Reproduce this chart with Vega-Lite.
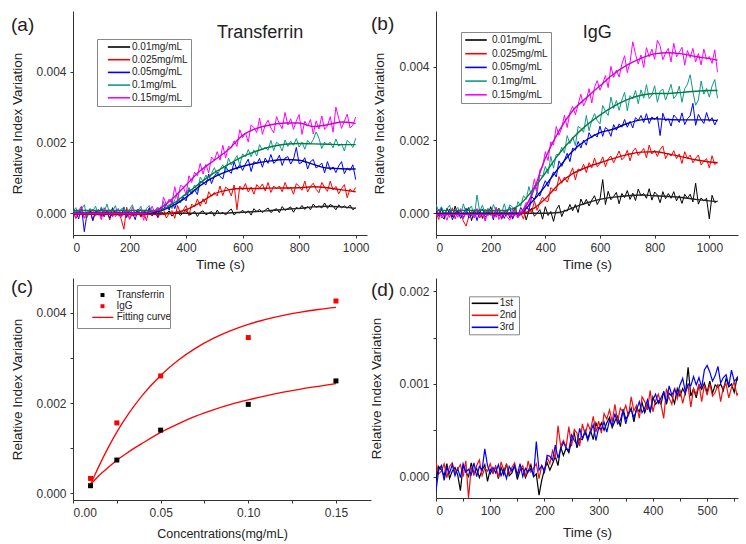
{
"$schema": "https://vega.github.io/schema/vega-lite/v6.json",
"background": "white",
"padding": {"left": 10, "top": 11, "right": 2, "bottom": 2},
"config": {
  "font": "Liberation Sans",
  "view": {"stroke": null},
  "axis": {"labelFontSize": 12, "labelColor": "#333", "titleFontSize": 13.5, "titleFontWeight": "normal", "titleColor": "#222", "domainColor": "#333", "tickColor": "#333", "tickSize": 3, "labelPadding": 4, "grid": false},
  "legend": {"orient": "none", "labelFontSize": 10, "labelColor": "#222", "strokeColor": "#888", "fillColor": "white", "padding": 3, "symbolStrokeWidth": 1.6},
  "title": {"fontSize": 19, "fontWeight": "normal", "anchor": "start", "frame": "group", "color": "#222", "offset": 0, "baseline": "alphabetic"}
},
"datasets": {
"aRaw": [
{"t":0,"a":0.03e-3,"b":0.05e-3,"c":0,"d":0.04e-3,"e":0.04e-3},
{"t":10,"a":-0.05e-3,"b":-0.15e-3,"c":0.08e-3,"d":0.16e-3,"e":-0.12e-3},
{"t":20,"a":0.08e-3,"b":-0.01e-3,"c":-0.16e-3,"d":-0.04e-3,"e":0.08e-3},
{"t":30,"a":-0.02e-3,"b":0.13e-3,"c":0.18e-3,"d":0.12e-3,"e":0.2e-3},
{"t":40,"a":0.01e-3,"b":-0.13e-3,"c":-0.52e-3,"d":0.24e-3,"e":-0.14e-3},
{"t":50,"a":-0.09e-3,"b":-0.07e-3,"c":0.02e-3,"d":-0.12e-3,"e":0.02e-3},
{"t":60,"a":0.06e-3,"b":0.09e-3,"c":0.12e-3,"d":0.14e-3,"e":-0.04e-3},
{"t":70,"a":0.02e-3,"b":-0.21e-3,"c":-0.2e-3,"d":0.06e-3,"e":0.12e-3},
{"t":80,"a":-0.04e-3,"b":0.03e-3,"c":0.08e-3,"d":0.2e-3,"e":-0.08e-3},
{"t":90,"a":0.09e-3,"b":0.11e-3,"c":-0.04e-3,"d":-0.06e-3,"e":0.06e-3},
{"t":100,"a":-0.07e-3,"b":-0.11e-3,"c":0.14e-3,"d":0.18e-3,"e":-0.18e-3},
{"t":110,"a":0.01e-3,"b":-0.03e-3,"c":-0.1e-3,"d":0.02e-3,"e":0.16e-3},
{"t":120,"a":0.05e-3,"b":0.07e-3,"c":0.06e-3,"d":0.26e-3,"e":-0.02e-3},
{"t":130,"a":-0.03e-3,"b":-0.19e-3,"c":-0.14e-3,"d":0,"e":0.1e-3},
{"t":140,"a":-0.08e-3,"b":0.15e-3,"c":0.16e-3,"d":0.06e-3,"e":-0.1e-3},
{"t":150,"a":0.07e-3,"b":-0.09e-3,"c":-0.02e-3,"d":0.22e-3,"e":0.04e-3},
{"t":160,"a":0,"b":0.01e-3,"c":0.04e-3,"d":-0.08e-3,"e":0.14e-3},
{"t":170,"a":-0.05e-3,"b":-0.15e-3,"c":-0.08e-3,"d":0.12e-3,"e":-0.12e-3},
{"t":180,"a":0.1e-3,"b":-0.45e-3,"c":0.18e-3,"d":0.16e-3,"e":0},
{"t":190,"a":-0.02e-3,"b":0.17e-3,"c":-0.12e-3,"d":-0.04e-3,"e":0.08e-3},
{"t":200,"a":0.04e-3,"b":-0.17e-3,"c":0.1e-3,"d":0.1e-3,"e":-0.16e-3},
{"t":210,"a":-0.06e-3,"b":-0.01e-3,"c":0.02e-3,"d":0.24e-3,"e":0.18e-3},
{"t":220,"a":0.02e-3,"b":-0.07e-3,"c":-0.18e-3,"d":-0.02e-3,"e":-0.06e-3},
{"t":230,"a":0.08e-3,"b":0.09e-3,"c":0.12e-3,"d":0.04e-3,"e":0.02e-3},
{"t":240,"a":-0.1e-3,"b":-0.11e-3,"c":-0.06e-3,"d":0.2e-3,"e":0.12e-3},
{"t":250,"a":0.03e-3,"b":0.03e-3,"c":0.08e-3,"d":-0.1e-3,"e":-0.2e-3},
{"t":260,"a":-0.01e-3,"b":-0.21e-3,"c":-0.03e-3,"d":0.14e-3,"e":0.1e-3},
{"t":270,"a":0.06e-3,"b":0.13e-3,"c":0.16e-3,"d":0.22e-3,"e":0},
{"t":280,"a":-0.07e-3,"b":-0.05e-3,"c":-0.07e-3,"d":0,"e":0.2e-3},
{"t":290,"a":0.05e-3,"b":0.07e-3,"c":0.08e-3,"d":0.08e-3,"e":-0.02e-3},
{"t":300,"a":-0.03e-3,"b":-0.13e-3,"c":-0.11e-3,"d":0.18e-3,"e":0.16e-3},
{"t":310,"a":0.09e-3,"b":0.02e-3,"c":0.18e-3,"d":-0.05e-3,"e":-0.05e-3},
{"t":320,"a":-0.04e-3,"b":0.12e-3,"c":0.11e-3,"d":0.33e-3,"e":0.46e-3},
{"t":330,"a":-0.01e-3,"b":-0.13e-3,"c":0.26e-3,"d":0.12e-3,"e":0.25e-3},
{"t":340,"a":0.07e-3,"b":-0.01e-3,"c":0.09e-3,"d":0.26e-3,"e":0.4e-3},
{"t":350,"a":-0.08e-3,"b":0.08e-3,"c":0.36e-3,"d":0.13e-3,"e":0.28e-3},
{"t":360,"a":0.02e-3,"b":-0.14e-3,"c":0.13e-3,"d":0.39e-3,"e":0.75e-3},
{"t":370,"a":0.04e-3,"b":0.22e-3,"c":0.36e-3,"d":0.57e-3,"e":0.38e-3},
{"t":380,"a":-0.06e-3,"b":0,"c":0.33e-3,"d":0.29e-3,"e":0.79e-3},
{"t":390,"a":0.01e-3,"b":0.1e-3,"c":0.46e-3,"d":0.51e-3,"e":0.75e-3},
{"t":400,"a":0.08e-3,"b":0.22e-3,"c":0.35e-3,"d":0.51e-3,"e":0.53e-3},
{"t":410,"a":-0.05e-3,"b":-0.06e-3,"c":0.68e-3,"d":0.73e-3,"e":1.06e-3},
{"t":420,"a":-0.02e-3,"b":0.26e-3,"c":0.54e-3,"d":0.59e-3,"e":0.87e-3},
{"t":430,"a":0.06e-3,"b":0.18e-3,"c":0.67e-3,"d":0.8e-3,"e":1.16e-3},
{"t":440,"a":-0.09e-3,"b":0.4e-3,"c":0.53e-3,"d":0.62e-3,"e":1.06e-3},
{"t":450,"a":0.03e-3,"b":0.2e-3,"c":0.9e-3,"d":1.02e-3,"e":1.41e-3},
{"t":460,"a":0.07e-3,"b":0.41e-3,"c":0.87e-3,"d":0.9e-3,"e":1.11e-3},
{"t":470,"a":-0.04e-3,"b":0.26e-3,"c":0.8e-3,"d":1.08e-3,"e":1.38e-3},
{"t":480,"a":0,"b":0.61e-3,"c":1.11e-3,"d":0.93e-3,"e":1.14e-3},
{"t":490,"a":0.05e-3,"b":0.48e-3,"c":0.84e-3,"d":1.13e-3,"e":1.59e-3},
{"t":500,"a":-0.08e-3,"b":0.59e-3,"c":1.05e-3,"d":1.29e-3,"e":1.5e-3},
{"t":510,"a":0.09e-3,"b":0.49e-3,"c":1.16e-3,"d":1.08e-3,"e":1.74e-3},
{"t":520,"a":-0.02e-3,"b":0.77e-3,"c":1.04e-3,"d":1.24e-3,"e":1.5e-3},
{"t":530,"a":0.03e-3,"b":0.5e-3,"c":0.97e-3,"d":1.37e-3,"e":1.92e-3},
{"t":540,"a":-0.05e-3,"b":0.74e-3,"c":1.31e-3,"d":1.17e-3,"e":1.56e-3},
{"t":550,"a":0.06e-3,"b":0.68e-3,"c":1.2e-3,"d":1.56e-3,"e":1.89e-3},
{"t":560,"a":0.12e-3,"b":0.49e-3,"c":1.13e-3,"d":1.36e-3,"e":1.85e-3},
{"t":570,"a":-0.05e-3,"b":0.8e-3,"c":1.45e-3,"d":1.49e-3,"e":2.05e-3},
{"t":580,"a":0.03e-3,"b":0.1e-3,"c":1.24e-3,"d":1.63e-3,"e":1.89e-3},
{"t":590,"a":0.01e-3,"b":0.77e-3,"c":1.38e-3,"d":1.36e-3,"e":2.36e-3},
{"t":600,"a":0.09e-3,"b":0.66e-3,"c":1.21e-3,"d":1.68e-3,"e":2.14e-3},
{"t":610,"a":0,"b":0.84e-3,"c":1.39e-3,"d":1.59e-3,"e":2.27e-3},
{"t":620,"a":0.07e-3,"b":0.6e-3,"c":1.53e-3,"d":1.8e-3,"e":2.01e-3},
{"t":630,"a":-0.05e-3,"b":0.74e-3,"c":1.18e-3,"d":1.6e-3,"e":2.5e-3},
{"t":640,"a":0.13e-3,"b":0.54e-3,"c":1.46e-3,"d":1.79e-3,"e":2.42e-3},
{"t":650,"a":0.05e-3,"b":0.81e-3,"c":1.4e-3,"d":1.62e-3,"e":2.28e-3},
{"t":660,"a":0.11e-3,"b":0.71e-3,"c":1.55e-3,"d":1.94e-3,"e":2.69e-3},
{"t":670,"a":0.02e-3,"b":0.83e-3,"c":1.3e-3,"d":1.79e-3,"e":2.23e-3},
{"t":680,"a":0.09e-3,"b":0.63e-3,"c":1.56e-3,"d":1.87e-3,"e":2.49e-3},
{"t":690,"a":0.15e-3,"b":0.87e-3,"c":1.41e-3,"d":1.78e-3,"e":2.63e-3},
{"t":700,"a":0.02e-3,"b":0.59e-3,"c":1.66e-3,"d":2.06e-3,"e":2.41e-3},
{"t":710,"a":0.09e-3,"b":0.77e-3,"c":1.41e-3,"d":1.77e-3,"e":2.27e-3},
{"t":720,"a":0.13e-3,"b":0.69e-3,"c":1.48e-3,"d":2.01e-3,"e":2.73e-3},
{"t":730,"a":0.02e-3,"b":0.77e-3,"c":1.64e-3,"d":1.94e-3,"e":2.53e-3},
{"t":740,"a":0.19e-3,"b":0.61e-3,"c":1.35e-3,"d":1.76e-3,"e":2.39e-3},
{"t":750,"a":0.08e-3,"b":0.87e-3,"c":1.56e-3,"d":2.07e-3,"e":2.85e-3},
{"t":760,"a":0.13e-3,"b":0.68e-3,"c":1.6e-3,"d":1.89e-3,"e":2.49e-3},
{"t":770,"a":0.18e-3,"b":0.74e-3,"c":1.39e-3,"d":2.04e-3,"e":2.67e-3},
{"t":780,"a":0.03e-3,"b":0.54e-3,"c":1.53e-3,"d":1.92e-3,"e":2.37e-3},
{"t":790,"a":0.17e-3,"b":0.84e-3,"c":1.86e-3,"d":2.11e-3,"e":2.61e-3},
{"t":800,"a":0.12e-3,"b":0.76e-3,"c":1.4e-3,"d":1.87e-3,"e":2.79e-3},
{"t":810,"a":0.22e-3,"b":0.65e-3,"c":1.44e-3,"d":2.01e-3,"e":2.23e-3},
{"t":820,"a":0.11e-3,"b":0.91e-3,"c":1.57e-3,"d":1.81e-3,"e":2.6e-3},
{"t":830,"a":0.19e-3,"b":0.6e-3,"c":1.25e-3,"d":2.06e-3,"e":2.46e-3},
{"t":840,"a":0.1e-3,"b":0.76e-3,"c":1.46e-3,"d":1.96e-3,"e":2.65e-3},
{"t":850,"a":0.26e-3,"b":0.85e-3,"c":1.52e-3,"d":2.08e-3,"e":2.24e-3},
{"t":860,"a":0.17e-3,"b":0.68e-3,"c":1.28e-3,"d":2.3e-3,"e":2.61e-3},
{"t":870,"a":0.21e-3,"b":0.58e-3,"c":1.34e-3,"d":2.12e-3,"e":2.38e-3},
{"t":880,"a":0.15e-3,"b":0.87e-3,"c":1.42e-3,"d":1.83e-3,"e":2.75e-3},
{"t":890,"a":0.29e-3,"b":0.73e-3,"c":1.14e-3,"d":2.01e-3,"e":2.37e-3},
{"t":900,"a":0.14e-3,"b":0.62e-3,"c":1.46e-3,"d":1.93e-3,"e":2.47e-3},
{"t":910,"a":0.25e-3,"b":0.91e-3,"c":1.22e-3,"d":2.01e-3,"e":2.73e-3},
{"t":920,"a":0.2e-3,"b":0.66e-3,"c":1.31e-3,"d":1.85e-3,"e":2.29e-3},
{"t":930,"a":0.1e-3,"b":0.76e-3,"c":1.15e-3,"d":2.1e-3,"e":3.0e-3},
{"t":940,"a":0.24e-3,"b":0.55e-3,"c":1.34e-3,"d":1.9e-3,"e":2.68e-3},
{"t":950,"a":0.15e-3,"b":0.7e-3,"c":1.46e-3,"d":1.96e-3,"e":2.4e-3},
{"t":960,"a":0.21e-3,"b":0.81e-3,"c":1.12e-3,"d":1.76e-3,"e":2.6e-3},
{"t":970,"a":0.14e-3,"b":0.44e-3,"c":1.28e-3,"d":2.06e-3,"e":2.8e-3},
{"t":980,"a":0.23e-3,"b":0.69e-3,"c":1.21e-3,"d":1.98e-3,"e":2.41e-3},
{"t":990,"a":0.1e-3,"b":0.6e-3,"c":1.37e-3,"d":1.86e-3,"e":2.49e-3},
{"t":1000,"a":0.16e-3,"b":0.73e-3,"c":0.95e-3,"d":2.12e-3,"e":2.72e-3}
],
"aFit": [
{"t":0,"a":0,"b":-0.03e-3,"c":0,"d":0.08e-3,"e":0},
{"t":50,"a":0,"b":-0.03e-3,"c":0,"d":0.08e-3,"e":0},
{"t":100,"a":0,"b":-0.03e-3,"c":0,"d":0.08e-3,"e":0},
{"t":150,"a":0,"b":-0.03e-3,"c":0,"d":0.08e-3,"e":0},
{"t":200,"a":0,"b":-0.03e-3,"c":0,"d":0.08e-3,"e":0},
{"t":250,"a":0,"b":-0.03e-3,"c":0,"d":0.08e-3,"e":0},
{"t":300,"a":0,"b":-0.03e-3,"c":0.05e-3,"d":0.08e-3,"e":0.1e-3},
{"t":350,"a":0,"b":0,"c":0.2e-3,"d":0.25e-3,"e":0.4e-3},
{"t":400,"a":0,"b":0.1e-3,"c":0.45e-3,"d":0.55e-3,"e":0.8e-3},
{"t":450,"a":0,"b":0.3e-3,"c":0.78e-3,"d":0.86e-3,"e":1.2e-3},
{"t":500,"a":0,"b":0.55e-3,"c":1.03e-3,"d":1.15e-3,"e":1.5e-3},
{"t":550,"a":0.01e-3,"b":0.66e-3,"c":1.2e-3,"d":1.38e-3,"e":1.8e-3},
{"t":600,"a":0.03e-3,"b":0.7e-3,"c":1.33e-3,"d":1.6e-3,"e":2.2e-3},
{"t":650,"a":0.05e-3,"b":0.7e-3,"c":1.42e-3,"d":1.76e-3,"e":2.4e-3},
{"t":700,"a":0.08e-3,"b":0.71e-3,"c":1.48e-3,"d":1.88e-3,"e":2.5e-3},
{"t":750,"a":0.11e-3,"b":0.715e-3,"c":1.52e-3,"d":1.95e-3,"e":2.55e-3},
{"t":800,"a":0.14e-3,"b":0.72e-3,"c":1.5e-3,"d":1.97e-3,"e":2.55e-3},
{"t":850,"a":0.18e-3,"b":0.75e-3,"c":1.38e-3,"d":1.96e-3,"e":2.45e-3},
{"t":900,"a":0.2e-3,"b":0.72e-3,"c":1.28e-3,"d":1.95e-3,"e":2.5e-3},
{"t":950,"a":0.18e-3,"b":0.66e-3,"c":1.26e-3,"d":1.94e-3,"e":2.58e-3},
{"t":1000,"a":0.14e-3,"b":0.61e-3,"c":1.25e-3,"d":1.94e-3,"e":2.54e-3}
],
"bRaw": [
{"t":0,"a":0.02e-3,"b":0.03e-3,"c":0.08e-3,"d":0.24e-3,"e":-0.07e-3},
{"t":10,"a":0.1e-3,"b":-0.17e-3,"c":-0.08e-3,"d":0.06e-3,"e":0.11e-3},
{"t":20,"a":-0.06e-3,"b":0.13e-3,"c":0.16e-3,"d":0.18e-3,"e":-0.13e-3},
{"t":30,"a":-0.16e-3,"b":-0.05e-3,"c":-0.1e-3,"d":-0.02e-3,"e":0.01e-3},
{"t":40,"a":0.14e-3,"b":0.01e-3,"c":-0.04e-3,"d":0.12e-3,"e":-0.19e-3},
{"t":50,"a":0,"b":-0.11e-3,"c":0.12e-3,"d":0.22e-3,"e":0.07e-3},
{"t":60,"a":-0.1e-3,"b":0.15e-3,"c":-0.18e-3,"d":-0.04e-3,"e":-0.03e-3},
{"t":70,"a":0.2e-3,"b":-0.15e-3,"c":0.02e-3,"d":0.08e-3,"e":0.09e-3},
{"t":80,"a":-0.04e-3,"b":0.07e-3,"c":0.06e-3,"d":0.16e-3,"e":-0.11e-3},
{"t":90,"a":0.08e-3,"b":-0.01e-3,"c":-0.14e-3,"d":-0.08e-3,"e":0.13e-3},
{"t":100,"a":-0.12e-3,"b":-0.21e-3,"c":0,"d":0.26e-3,"e":-0.15e-3},
{"t":110,"a":0.04e-3,"b":-0.35e-3,"c":0.14e-3,"d":0.02e-3,"e":0.03e-3},
{"t":120,"a":0.16e-3,"b":-0.09e-3,"c":-0.12e-3,"d":0.1e-3,"e":-0.05e-3},
{"t":130,"a":-0.2e-3,"b":0.05e-3,"c":-0.06e-3,"d":0.2e-3,"e":0.03e-3},
{"t":140,"a":0.06e-3,"b":-0.07e-3,"c":0.1e-3,"d":-0.12e-3,"e":-0.13e-3},
{"t":150,"a":-0.02e-3,"b":0.11e-3,"c":-0.2e-3,"d":0.5e-3,"e":0.13e-3},
{"t":160,"a":0.12e-3,"b":-0.13e-3,"c":0.04e-3,"d":0.04e-3,"e":-0.07e-3},
{"t":170,"a":-0.14e-3,"b":0.01e-3,"c":0.12e-3,"d":0.22e-3,"e":-0.01e-3},
{"t":180,"a":0.1e-3,"b":-0.19e-3,"c":-0.1e-3,"d":-0.02e-3,"e":-0.21e-3},
{"t":190,"a":-0.06e-3,"b":0.07e-3,"c":-0.02e-3,"d":0.14e-3,"e":0.09e-3},
{"t":200,"a":0.18e-3,"b":-0.03e-3,"c":0.08e-3,"d":-0.06e-3,"e":0.01e-3},
{"t":210,"a":-0.08e-3,"b":0.09e-3,"c":-0.18e-3,"d":0.24e-3,"e":-0.11e-3},
{"t":220,"a":-0.02e-3,"b":-0.11e-3,"c":0.16e-3,"d":0.06e-3,"e":0.15e-3},
{"t":230,"a":0.14e-3,"b":0.13e-3,"c":-0.08e-3,"d":0.12e-3,"e":-0.17e-3},
{"t":240,"a":-0.16e-3,"b":-0.15e-3,"c":0.02e-3,"d":0,"e":-0.01e-3},
{"t":250,"a":0.04e-3,"b":0.03e-3,"c":-0.14e-3,"d":0.26e-3,"e":0.07e-3},
{"t":260,"a":0.08e-3,"b":-0.05e-3,"c":0.06e-3,"d":-0.02e-3,"e":-0.09e-3},
{"t":270,"a":-0.12e-3,"b":0.03e-3,"c":0.18e-3,"d":0.23e-3,"e":-0.19e-3},
{"t":280,"a":0.02e-3,"b":-0.13e-3,"c":-0.16e-3,"d":0.17e-3,"e":0.11e-3},
{"t":290,"a":0.16e-3,"b":0.13e-3,"c":0,"d":0,"e":-0.03e-3},
{"t":300,"a":-0.1e-3,"b":-0.07e-3,"c":-0.06e-3,"d":0.32e-3,"e":-0.13e-3},
{"t":310,"a":-0.04e-3,"b":0.02e-3,"c":0.16e-3,"d":0.19e-3,"e":0.08e-3},
{"t":320,"a":0.12e-3,"b":-0.16e-3,"c":0.03e-3,"d":0.48e-3,"e":0.12e-3},
{"t":330,"a":-0.18e-3,"b":0.17e-3,"c":0.23e-3,"d":0.38e-3,"e":0.3e-3},
{"t":340,"a":0.06e-3,"b":0.11e-3,"c":0.06e-3,"d":0.73e-3,"e":0.21e-3},
{"t":350,"a":0.14e-3,"b":0.02e-3,"c":0.46e-3,"d":0.45e-3,"e":0.56e-3},
{"t":360,"a":-0.08e-3,"b":0.34e-3,"c":0.37e-3,"d":0.76e-3,"e":0.94e-3},
{"t":370,"a":0,"b":0.08e-3,"c":0.58e-3,"d":0.56e-3,"e":0.6e-3},
{"t":380,"a":0.1e-3,"b":0.3e-3,"c":0.47e-3,"d":1.05e-3,"e":1.19e-3},
{"t":390,"a":-0.16e-3,"b":0.44e-3,"c":0.7e-3,"d":1.0e-3,"e":1.27e-3},
{"t":400,"a":0.18e-3,"b":0.34e-3,"c":0.89e-3,"d":1.28e-3,"e":1.68e-3},
{"t":410,"a":-0.06e-3,"b":0.32e-3,"c":0.73e-3,"d":1.08e-3,"e":1.44e-3},
{"t":420,"a":0.05e-3,"b":0.7e-3,"c":0.95e-3,"d":1.55e-3,"e":1.95e-3},
{"t":430,"a":-0.22e-3,"b":0.64e-3,"c":1.13e-3,"d":1.23e-3,"e":1.86e-3},
{"t":440,"a":0.1e-3,"b":0.62e-3,"c":0.99e-3,"d":1.61e-3,"e":2.37e-3},
{"t":450,"a":0.22e-3,"b":1.0e-3,"c":1.43e-3,"d":1.59e-3,"e":2.13e-3},
{"t":460,"a":-0.09e-3,"b":0.82e-3,"c":1.28e-3,"d":1.8e-3,"e":2.33e-3},
{"t":470,"a":0.09e-3,"b":0.99e-3,"c":1.45e-3,"d":1.64e-3,"e":2.68e-3},
{"t":480,"a":0.06e-3,"b":0.85e-3,"c":1.64e-3,"d":2.12e-3,"e":2.34e-3},
{"t":490,"a":0.24e-3,"b":1.06e-3,"c":1.41e-3,"d":1.9e-3,"e":2.75e-3},
{"t":500,"a":0.07e-3,"b":1.24e-3,"c":1.78e-3,"d":2.08e-3,"e":2.92e-3},
{"t":510,"a":0.24e-3,"b":0.91e-3,"c":1.72e-3,"d":1.85e-3,"e":2.69e-3},
{"t":520,"a":0.02e-3,"b":1.21e-3,"c":1.96e-3,"d":2.37e-3,"e":2.97e-3},
{"t":530,"a":0.39e-3,"b":1.16e-3,"c":1.78e-3,"d":2.32e-3,"e":3.25e-3},
{"t":540,"a":0.23e-3,"b":1.34e-3,"c":2.0e-3,"d":2.21e-3,"e":2.93e-3},
{"t":550,"a":0.38e-3,"b":1.11e-3,"c":1.86e-3,"d":2.67e-3,"e":3.09e-3},
{"t":560,"a":0.2e-3,"b":1.38e-3,"c":2.2e-3,"d":2.25e-3,"e":3.4e-3},
{"t":570,"a":0.36e-3,"b":1.24e-3,"c":2.06e-3,"d":2.54e-3,"e":3.01e-3},
{"t":580,"a":0.48e-3,"b":1.51e-3,"c":2.16e-3,"d":2.72e-3,"e":3.44e-3},
{"t":590,"a":0.24e-3,"b":1.27e-3,"c":2.08e-3,"d":2.53e-3,"e":3.62e-3},
{"t":600,"a":0.38e-3,"b":1.36e-3,"c":2.38e-3,"d":2.44e-3,"e":3.36e-3},
{"t":610,"a":0.92e-3,"b":1.54e-3,"c":2.1e-3,"d":2.94e-3,"e":3.54e-3},
{"t":620,"a":0.24e-3,"b":1.27e-3,"c":2.34e-3,"d":2.78e-3,"e":3.76e-3},
{"t":630,"a":0.6e-3,"b":1.49e-3,"c":2.28e-3,"d":2.67e-3,"e":3.43e-3},
{"t":640,"a":0.37e-3,"b":1.56e-3,"c":2.1e-3,"d":3.17e-3,"e":4.01e-3},
{"t":650,"a":0.46e-3,"b":1.38e-3,"c":2.42e-3,"d":2.86e-3,"e":3.71e-3},
{"t":660,"a":0.57e-3,"b":1.54e-3,"c":2.27e-3,"d":3.08e-3,"e":3.91e-3},
{"t":670,"a":0.26e-3,"b":1.7e-3,"c":2.44e-3,"d":2.81e-3,"e":3.72e-3},
{"t":680,"a":0.54e-3,"b":1.46e-3,"c":2.35e-3,"d":3.09e-3,"e":4.07e-3},
{"t":690,"a":0.43e-3,"b":1.54e-3,"c":2.56e-3,"d":3.3e-3,"e":4.3e-3},
{"t":700,"a":0.62e-3,"b":1.72e-3,"c":2.35e-3,"d":2.8e-3,"e":3.84e-3},
{"t":710,"a":0.38e-3,"b":1.43e-3,"c":2.51e-3,"d":3.21e-3,"e":4.12e-3},
{"t":720,"a":0.55e-3,"b":1.69e-3,"c":2.33e-3,"d":3.12e-3,"e":4.68e-3},
{"t":730,"a":0.35e-3,"b":1.78e-3,"c":2.61e-3,"d":3.35e-3,"e":4.34e-3},
{"t":740,"a":0.66e-3,"b":1.58e-3,"c":2.53e-3,"d":2.99e-3,"e":4.07e-3},
{"t":750,"a":0.48e-3,"b":1.67e-3,"c":2.67e-3,"d":3.37e-3,"e":4.32e-3},
{"t":760,"a":0.54e-3,"b":1.77e-3,"c":2.48e-3,"d":3.14e-3,"e":3.98e-3},
{"t":770,"a":0.41e-3,"b":1.51e-3,"c":2.72e-3,"d":3.51e-3,"e":4.52e-3},
{"t":780,"a":0.67e-3,"b":1.86e-3,"c":2.45e-3,"d":3.13e-3,"e":4.27e-3},
{"t":790,"a":0.36e-3,"b":1.62e-3,"c":2.63e-3,"d":3.23e-3,"e":4.48e-3},
{"t":800,"a":0.58e-3,"b":1.72e-3,"c":2.56e-3,"d":3.48e-3,"e":4.2e-3},
{"t":810,"a":0.5e-3,"b":1.55e-3,"c":2.64e-3,"d":3.03e-3,"e":4.72e-3},
{"t":820,"a":0.29e-3,"b":1.74e-3,"c":2.12e-3,"d":3.33e-3,"e":4.57e-3},
{"t":830,"a":0.59e-3,"b":1.84e-3,"c":2.73e-3,"d":3.39e-3,"e":4.19e-3},
{"t":840,"a":0.4e-3,"b":1.49e-3,"c":2.52e-3,"d":3.09e-3,"e":4.37e-3},
{"t":850,"a":0.54e-3,"b":1.64e-3,"c":2.58e-3,"d":3.3e-3,"e":4.5e-3},
{"t":860,"a":0.41e-3,"b":1.56e-3,"c":2.38e-3,"d":3.52e-3,"e":4.13e-3},
{"t":870,"a":0.59e-3,"b":1.71e-3,"c":2.68e-3,"d":3.13e-3,"e":4.64e-3},
{"t":880,"a":0.34e-3,"b":1.49e-3,"c":2.6e-3,"d":3.23e-3,"e":4.27e-3},
{"t":890,"a":0.48e-3,"b":1.62e-3,"c":2.48e-3,"d":3.47e-3,"e":4.39e-3},
{"t":900,"a":0.27e-3,"b":1.36e-3,"c":2.74e-3,"d":3.03e-3,"e":4.53e-3},
{"t":910,"a":0.52e-3,"b":1.68e-3,"c":2.42e-3,"d":3.4e-3,"e":4.04e-3},
{"t":920,"a":0.41e-3,"b":1.49e-3,"c":2.58e-3,"d":3.52e-3,"e":4.44e-3},
{"t":930,"a":0.52e-3,"b":1.59e-3,"c":2.66e-3,"d":3.78e-3,"e":4.25e-3},
{"t":940,"a":0.31e-3,"b":1.38e-3,"c":3.0e-3,"d":3.32e-3,"e":4.5e-3},
{"t":950,"a":0.82e-3,"b":1.5e-3,"c":2.4e-3,"d":2.95e-3,"e":4.13e-3},
{"t":960,"a":0.25e-3,"b":1.59e-3,"c":2.7e-3,"d":3.09e-3,"e":4.36e-3},
{"t":970,"a":0.42e-3,"b":1.32e-3,"c":2.56e-3,"d":3.61e-3,"e":4.05e-3},
{"t":980,"a":0.34e-3,"b":1.42e-3,"c":2.45e-3,"d":3.25e-3,"e":4.48e-3},
{"t":990,"a":0.41e-3,"b":1.49e-3,"c":2.75e-3,"d":3.41e-3,"e":4.2e-3},
{"t":1000,"a":-0.15e-3,"b":1.24e-3,"c":2.51e-3,"d":3.17e-3,"e":4.28e-3},
{"t":1010,"a":0.49e-3,"b":1.57e-3,"c":2.61e-3,"d":3.47e-3,"e":4.09e-3},
{"t":1020,"a":0.29e-3,"b":1.33e-3,"c":2.41e-3,"d":3.65e-3,"e":4.46e-3},
{"t":1030,"a":0.34e-3,"b":1.4e-3,"c":2.57e-3,"d":3.14e-3,"e":3.85e-3}
],
"bFit": [
{"t":0,"a":0,"b":-0.03e-3,"c":-0.02e-3,"d":0.08e-3,"e":-0.03e-3},
{"t":50,"a":0,"b":-0.03e-3,"c":-0.02e-3,"d":0.08e-3,"e":-0.03e-3},
{"t":100,"a":0,"b":-0.03e-3,"c":-0.02e-3,"d":0.08e-3,"e":-0.03e-3},
{"t":150,"a":0,"b":-0.03e-3,"c":-0.02e-3,"d":0.08e-3,"e":-0.03e-3},
{"t":200,"a":0,"b":-0.03e-3,"c":-0.02e-3,"d":0.08e-3,"e":-0.03e-3},
{"t":250,"a":0,"b":-0.03e-3,"c":-0.02e-3,"d":0.08e-3,"e":-0.03e-3},
{"t":300,"a":0,"b":-0.03e-3,"c":-0.02e-3,"d":0.2e-3,"e":-0.03e-3},
{"t":350,"a":0,"b":0.1e-3,"c":0.3e-3,"d":0.6e-3,"e":0.5e-3},
{"t":400,"a":0,"b":0.4e-3,"c":0.75e-3,"d":1.1e-3,"e":1.5e-3},
{"t":450,"a":0.02e-3,"b":0.8e-3,"c":1.25e-3,"d":1.62e-3,"e":2.25e-3},
{"t":500,"a":0.15e-3,"b":1.08e-3,"c":1.7e-3,"d":2.05e-3,"e":2.8e-3},
{"t":550,"a":0.28e-3,"b":1.25e-3,"c":2.0e-3,"d":2.4e-3,"e":3.15e-3},
{"t":600,"a":0.38e-3,"b":1.38e-3,"c":2.2e-3,"d":2.68e-3,"e":3.48e-3},
{"t":650,"a":0.44e-3,"b":1.5e-3,"c":2.3e-3,"d":2.92e-3,"e":3.8e-3},
{"t":700,"a":0.48e-3,"b":1.6e-3,"c":2.45e-3,"d":3.1e-3,"e":4.05e-3},
{"t":750,"a":0.5e-3,"b":1.67e-3,"c":2.55e-3,"d":3.22e-3,"e":4.23e-3},
{"t":800,"a":0.48e-3,"b":1.68e-3,"c":2.58e-3,"d":3.27e-3,"e":4.35e-3},
{"t":850,"a":0.46e-3,"b":1.62e-3,"c":2.56e-3,"d":3.27e-3,"e":4.38e-3},
{"t":900,"a":0.43e-3,"b":1.54e-3,"c":2.55e-3,"d":3.3e-3,"e":4.35e-3},
{"t":950,"a":0.38e-3,"b":1.46e-3,"c":2.55e-3,"d":3.33e-3,"e":4.28e-3},
{"t":1000,"a":0.34e-3,"b":1.4e-3,"c":2.55e-3,"d":3.35e-3,"e":4.22e-3},
{"t":1030,"a":0.32e-3,"b":1.38e-3,"c":2.53e-3,"d":3.35e-3,"e":4.18e-3}
],
"cPts": [
{"conc":0.01,"v":0.168e-3,"s":"Transferrin"},
{"conc":0.025,"v":0.737e-3,"s":"Transferrin"},
{"conc":0.05,"v":1.40e-3,"s":"Transferrin"},
{"conc":0.10,"v":1.97e-3,"s":"Transferrin"},
{"conc":0.15,"v":2.49e-3,"s":"Transferrin"},
{"conc":0.01,"v":0.33e-3,"s":"IgG"},
{"conc":0.025,"v":1.56e-3,"s":"IgG"},
{"conc":0.05,"v":2.60e-3,"s":"IgG"},
{"conc":0.10,"v":3.45e-3,"s":"IgG"},
{"conc":0.15,"v":4.26e-3,"s":"IgG"}
],
"cFit": [
{"conc":0.01,"v":0.2e-3,"curve":"Transferrin","s":"Fitting curve"},
{"conc":0.0125,"v":0.3e-3,"curve":"Transferrin","s":"Fitting curve"},
{"conc":0.015,"v":0.4e-3,"curve":"Transferrin","s":"Fitting curve"},
{"conc":0.02,"v":0.57e-3,"curve":"Transferrin","s":"Fitting curve"},
{"conc":0.025,"v":0.73e-3,"curve":"Transferrin","s":"Fitting curve"},
{"conc":0.03,"v":0.87e-3,"curve":"Transferrin","s":"Fitting curve"},
{"conc":0.035,"v":1.0e-3,"curve":"Transferrin","s":"Fitting curve"},
{"conc":0.04,"v":1.12e-3,"curve":"Transferrin","s":"Fitting curve"},
{"conc":0.05,"v":1.35e-3,"curve":"Transferrin","s":"Fitting curve"},
{"conc":0.06,"v":1.54e-3,"curve":"Transferrin","s":"Fitting curve"},
{"conc":0.07,"v":1.71e-3,"curve":"Transferrin","s":"Fitting curve"},
{"conc":0.08,"v":1.85e-3,"curve":"Transferrin","s":"Fitting curve"},
{"conc":0.09,"v":1.97e-3,"curve":"Transferrin","s":"Fitting curve"},
{"conc":0.10,"v":2.07e-3,"curve":"Transferrin","s":"Fitting curve"},
{"conc":0.11,"v":2.16e-3,"curve":"Transferrin","s":"Fitting curve"},
{"conc":0.12,"v":2.24e-3,"curve":"Transferrin","s":"Fitting curve"},
{"conc":0.13,"v":2.31e-3,"curve":"Transferrin","s":"Fitting curve"},
{"conc":0.14,"v":2.37e-3,"curve":"Transferrin","s":"Fitting curve"},
{"conc":0.15,"v":2.43e-3,"curve":"Transferrin","s":"Fitting curve"},
{"conc":0.01,"v":0.187e-3,"curve":"IgG","s":"Fitting curve"},
{"conc":0.0125,"v":0.409e-3,"curve":"IgG","s":"Fitting curve"},
{"conc":0.015,"v":0.619e-3,"curve":"IgG","s":"Fitting curve"},
{"conc":0.02,"v":1.006e-3,"curve":"IgG","s":"Fitting curve"},
{"conc":0.025,"v":1.355e-3,"curve":"IgG","s":"Fitting curve"},
{"conc":0.03,"v":1.664e-3,"curve":"IgG","s":"Fitting curve"},
{"conc":0.035,"v":1.94e-3,"curve":"IgG","s":"Fitting curve"},
{"conc":0.04,"v":2.19e-3,"curve":"IgG","s":"Fitting curve"},
{"conc":0.05,"v":2.61e-3,"curve":"IgG","s":"Fitting curve"},
{"conc":0.06,"v":2.945e-3,"curve":"IgG","s":"Fitting curve"},
{"conc":0.07,"v":3.216e-3,"curve":"IgG","s":"Fitting curve"},
{"conc":0.08,"v":3.432e-3,"curve":"IgG","s":"Fitting curve"},
{"conc":0.09,"v":3.604e-3,"curve":"IgG","s":"Fitting curve"},
{"conc":0.10,"v":3.743e-3,"curve":"IgG","s":"Fitting curve"},
{"conc":0.11,"v":3.855e-3,"curve":"IgG","s":"Fitting curve"},
{"conc":0.12,"v":3.943e-3,"curve":"IgG","s":"Fitting curve"},
{"conc":0.13,"v":4.014e-3,"curve":"IgG","s":"Fitting curve"},
{"conc":0.14,"v":4.071e-3,"curve":"IgG","s":"Fitting curve"},
{"conc":0.15,"v":4.117e-3,"curve":"IgG","s":"Fitting curve"}
],
"dRaw": [
{"t":0,"1st":-0.04e-3,"2nd":0.16e-3,"3rd":-0.15e-3},
{"t":5,"1st":0.11e-3,"2nd":0.03e-3,"3rd":0.07e-3},
{"t":10,"1st":0.07e-3,"2nd":0.06e-3,"3rd":0.12e-3},
{"t":15,"1st":0.01e-3,"2nd":0.14e-3,"3rd":-0.04e-3},
{"t":20,"1st":0.14e-3,"2nd":-0.01e-3,"3rd":0.1e-3},
{"t":25,"1st":-0.02e-3,"2nd":0.11e-3,"3rd":0.04e-3},
{"t":30,"1st":0.06e-3,"2nd":0.15e-3,"3rd":0.13e-3},
{"t":35,"1st":0.1e-3,"2nd":0.04e-3,"3rd":0.01e-3},
{"t":40,"1st":0.02e-3,"2nd":0.08e-3,"3rd":0.09e-3},
{"t":45,"1st":-0.15e-3,"2nd":0.13e-3,"3rd":-0.01e-3},
{"t":50,"1st":0.12e-3,"2nd":0,"3rd":0.14e-3},
{"t":55,"1st":0.05e-3,"2nd":0.17e-3,"3rd":0.05e-3},
{"t":60,"1st":0,"2nd":-0.23e-3,"3rd":0.08e-3},
{"t":65,"1st":0.15e-3,"2nd":0.1e-3,"3rd":0.02e-3},
{"t":70,"1st":0.03e-3,"2nd":0.02e-3,"3rd":0.15e-3},
{"t":75,"1st":0.09e-3,"2nd":0.12e-3,"3rd":0},
{"t":80,"1st":-0.01e-3,"2nd":0.18e-3,"3rd":0.11e-3},
{"t":85,"1st":0.07e-3,"2nd":0.01e-3,"3rd":0.07e-3},
{"t":90,"1st":0.13e-3,"2nd":0.09e-3,"3rd":0.3e-3},
{"t":95,"1st":-0.05e-3,"2nd":0.06e-3,"3rd":0.12e-3},
{"t":100,"1st":0.08e-3,"2nd":0.14e-3,"3rd":0.03e-3},
{"t":105,"1st":0.04e-3,"2nd":0.04e-3,"3rd":0.1e-3},
{"t":110,"1st":0.11e-3,"2nd":0.11e-3,"3rd":0.04e-3},
{"t":115,"1st":-0.02e-3,"2nd":-0.01e-3,"3rd":0.13e-3},
{"t":120,"1st":0.1e-3,"2nd":0.16e-3,"3rd":0.01e-3},
{"t":125,"1st":0.02e-3,"2nd":0.07e-3,"3rd":0.08e-3},
{"t":130,"1st":0.14e-3,"2nd":0.13e-3,"3rd":-0.02e-3},
{"t":135,"1st":0.01e-3,"2nd":0.03e-3,"3rd":0.11e-3},
{"t":140,"1st":0.04e-3,"2nd":0.1e-3,"3rd":0.06e-3},
{"t":145,"1st":0.12e-3,"2nd":0.15e-3,"3rd":0.12e-3},
{"t":150,"1st":-0.03e-3,"2nd":0.02e-3,"3rd":0.02e-3},
{"t":155,"1st":0.07e-3,"2nd":0.08e-3,"3rd":0.14e-3},
{"t":160,"1st":0.09e-3,"2nd":0.12e-3,"3rd":0},
{"t":165,"1st":-0.01e-3,"2nd":0,"3rd":0.09e-3},
{"t":170,"1st":0.06e-3,"2nd":0.17e-3,"3rd":0.05e-3},
{"t":175,"1st":0.13e-3,"2nd":0.05e-3,"3rd":0.09e-3},
{"t":180,"1st":0,"2nd":0.09e-3,"3rd":0.01e-3},
{"t":185,"1st":0.03e-3,"2nd":0.14e-3,"3rd":0.38e-3},
{"t":190,"1st":-0.2e-3,"2nd":-0.02e-3,"3rd":0.07e-3},
{"t":195,"1st":-0.04e-3,"2nd":0.12e-3,"3rd":0.12e-3},
{"t":200,"1st":0.08e-3,"2nd":0.06e-3,"3rd":0.05e-3},
{"t":205,"1st":0.15e-3,"2nd":0.21e-3,"3rd":0.23e-3},
{"t":210,"1st":0.07e-3,"2nd":0.14e-3,"3rd":0.22e-3},
{"t":215,"1st":0.14e-3,"2nd":0.28e-3,"3rd":0.18e-3},
{"t":220,"1st":0.22e-3,"2nd":0.2e-3,"3rd":0.34e-3},
{"t":225,"1st":0.12e-3,"2nd":0.55e-3,"3rd":0.2e-3},
{"t":230,"1st":0.32e-3,"2nd":0.33e-3,"3rd":0.3e-3},
{"t":235,"1st":0.23e-3,"2nd":0.39e-3,"3rd":0.37e-3},
{"t":240,"1st":0.31e-3,"2nd":0.32e-3,"3rd":0.31e-3},
{"t":245,"1st":0.26e-3,"2nd":0.54e-3,"3rd":0.28e-3},
{"t":250,"1st":0.39e-3,"2nd":0.33e-3,"3rd":0.45e-3},
{"t":255,"1st":0.47e-3,"2nd":0.51e-3,"3rd":0.39e-3},
{"t":260,"1st":0.31e-3,"2nd":0.47e-3,"3rd":0.35e-3},
{"t":265,"1st":0.41e-3,"2nd":0.33e-3,"3rd":0.52e-3},
{"t":270,"1st":0.4e-3,"2nd":0.57e-3,"3rd":0.41e-3},
{"t":275,"1st":0.5e-3,"2nd":0.45e-3,"3rd":0.48e-3},
{"t":280,"1st":0.41e-3,"2nd":0.57e-3,"3rd":0.39e-3},
{"t":285,"1st":0.5e-3,"2nd":0.5e-3,"3rd":0.48e-3},
{"t":290,"1st":0.4e-3,"2nd":0.65e-3,"3rd":0.56e-3},
{"t":295,"1st":0.58e-3,"2nd":0.48e-3,"3rd":0.39e-3},
{"t":300,"1st":0.51e-3,"2nd":0.6e-3,"3rd":0.53e-3},
{"t":305,"1st":0.58e-3,"2nd":0.47e-3,"3rd":0.51e-3},
{"t":310,"1st":0.5e-3,"2nd":0.68e-3,"3rd":0.59e-3},
{"t":315,"1st":0.58e-3,"2nd":0.62e-3,"3rd":0.48e-3},
{"t":320,"1st":0.64e-3,"2nd":0.72e-3,"3rd":0.61e-3},
{"t":325,"1st":0.53e-3,"2nd":0.59e-3,"3rd":0.55e-3},
{"t":330,"1st":0.6e-3,"2nd":0.78e-3,"3rd":0.68e-3},
{"t":335,"1st":0.65e-3,"2nd":0.59e-3,"3rd":0.57e-3},
{"t":340,"1st":0.54e-3,"2nd":0.74e-3,"3rd":0.61e-3},
{"t":345,"1st":0.73e-3,"2nd":0.69e-3,"3rd":0.71e-3},
{"t":350,"1st":0.62e-3,"2nd":0.77e-3,"3rd":0.57e-3},
{"t":355,"1st":0.67e-3,"2nd":0.65e-3,"3rd":0.69e-3},
{"t":360,"1st":0.74e-3,"2nd":0.86e-3,"3rd":0.72e-3},
{"t":365,"1st":0.59e-3,"2nd":0.71e-3,"3rd":0.64e-3},
{"t":370,"1st":0.74e-3,"2nd":0.77e-3,"3rd":0.72e-3},
{"t":375,"1st":0.7e-3,"2nd":0.63e-3,"3rd":0.81e-3},
{"t":380,"1st":0.8e-3,"2nd":0.86e-3,"3rd":0.69e-3},
{"t":385,"1st":0.69e-3,"2nd":0.81e-3,"3rd":0.74e-3},
{"t":390,"1st":0.78e-3,"2nd":0.72e-3,"3rd":0.83e-3},
{"t":395,"1st":0.7e-3,"2nd":0.93e-3,"3rd":0.7e-3},
{"t":400,"1st":0.86e-3,"2nd":0.7e-3,"3rd":0.83e-3},
{"t":405,"1st":0.78e-3,"2nd":0.82e-3,"3rd":0.89e-3},
{"t":410,"1st":0.82e-3,"2nd":0.89e-3,"3rd":0.79e-3},
{"t":415,"1st":0.78e-3,"2nd":0.78e-3,"3rd":0.85e-3},
{"t":420,"1st":0.92e-3,"2nd":0.63e-3,"3rd":0.91e-3},
{"t":425,"1st":0.78e-3,"2nd":0.95e-3,"3rd":0.8e-3},
{"t":430,"1st":0.9e-3,"2nd":0.85e-3,"3rd":0.98e-3},
{"t":435,"1st":0.87e-3,"2nd":0.78e-3,"3rd":0.88e-3},
{"t":440,"1st":0.79e-3,"2nd":0.96e-3,"3rd":0.94e-3},
{"t":445,"1st":0.95e-3,"2nd":0.84e-3,"3rd":0.88e-3},
{"t":450,"1st":0.87e-3,"2nd":0.94e-3,"3rd":0.99e-3},
{"t":455,"1st":0.95e-3,"2nd":0.79e-3,"3rd":1.06e-3},
{"t":460,"1st":0.89e-3,"2nd":0.92e-3,"3rd":0.91e-3},
{"t":465,"1st":1.18e-3,"2nd":0.98e-3,"3rd":1.0e-3},
{"t":470,"1st":0.87e-3,"2nd":0.75e-3,"3rd":0.98e-3},
{"t":475,"1st":0.95e-3,"2nd":0.95e-3,"3rd":1.08e-3},
{"t":480,"1st":0.85e-3,"2nd":0.89e-3,"3rd":0.99e-3},
{"t":485,"1st":0.99e-3,"2nd":1.0e-3,"3rd":1.07e-3},
{"t":490,"1st":0.94e-3,"2nd":0.81e-3,"3rd":0.96e-3},
{"t":495,"1st":1.01e-3,"2nd":0.99e-3,"3rd":1.15e-3},
{"t":500,"1st":0.91e-3,"2nd":0.88e-3,"3rd":1.2e-3},
{"t":505,"1st":1.03e-3,"2nd":1.0e-3,"3rd":1.13e-3},
{"t":510,"1st":0.9e-3,"2nd":0.87e-3,"3rd":1.03e-3},
{"t":515,"1st":0.99e-3,"2nd":0.91e-3,"3rd":1.09e-3},
{"t":520,"1st":0.96e-3,"2nd":1.0e-3,"3rd":1.19e-3},
{"t":525,"1st":1.0e-3,"2nd":0.81e-3,"3rd":1.01e-3},
{"t":530,"1st":0.93e-3,"2nd":0.97e-3,"3rd":1.07e-3},
{"t":535,"1st":1.06e-3,"2nd":1.0e-3,"3rd":1.1e-3},
{"t":540,"1st":0.97e-3,"2nd":0.85e-3,"3rd":0.98e-3},
{"t":545,"1st":1.0e-3,"2nd":0.96e-3,"3rd":1.15e-3},
{"t":550,"1st":0.91e-3,"2nd":1.02e-3,"3rd":1.03e-3},
{"t":555,"1st":1.06e-3,"2nd":0.88e-3,"3rd":1.06e-3},
{"t":560,"1st":1.02e-3,"2nd":0.92e-3,"3rd":1.11e-3}
]
},
"columns": 2,
"spacing": {"row": 43, "column": 65},
"bounds": "flush",
"resolve": {"scale": {"color": "independent"}},
"concat": [
 {
  "width": 294, "height": 224,
  "title": {"text": "(a)", "dx": -62, "dy": 28},
  "layer": [
   {"data": {"name": "aRaw"},
    "transform": [{"fold": ["a","b","c","d","e"], "as": ["s","v"]}],
    "mark": {"type": "line", "strokeWidth": 1, "clip": true},
    "encoding": {
     "x": {"field": "t", "type": "quantitative", "scale": {"domain": [0, 1040], "nice": false}, "axis": {"title": "Time (s)", "values": [0,100,200,300,400,500,600,700,800,900,1000], "format": "d", "labelExpr": "datum.value % 200 == 0 ? datum.label : ''", "titlePadding": 4}},
     "y": {"field": "v", "type": "quantitative", "scale": {"domain": [-0.000613, 0.005714], "nice": false, "zero": false}, "axis": {"title": "Relative Index Variation", "values": [0, 0.002, 0.004], "format": ".3f", "titlePadding": 11}},
     "color": {"field": "s", "type": "nominal", "scale": {"domain": ["a","b","c","d","e"], "range": ["#000000","#ff0000","#0000ff","#109a8c","#ff00ff"]},
       "legend": {"title": null, "labelExpr": "datum.label == 'a' ? '0.01mg/mL' : datum.label == 'b' ? '0.025mg/mL' : datum.label == 'c' ? '0.05mg/mL' : datum.label == 'd' ? '0.1mg/mL' : '0.15mg/mL'", "legendX": 24, "legendY": 28, "symbolType": "M-4,0H4", "symbolSize": 31, "symbolOffset": 14, "labelOffset": 8, "rowPadding": 2.7}}
    }},
   {"data": {"name": "aFit"},
    "transform": [{"fold": ["a","b","c","d","e"], "as": ["s","v"]}],
    "mark": {"type": "line", "strokeWidth": 1.4, "interpolate": "monotone"},
    "encoding": {
     "x": {"field": "t", "type": "quantitative"},
     "y": {"field": "v", "type": "quantitative"},
     "color": {"field": "s", "type": "nominal", "scale": {"domain": ["a","b","c","d","e"], "range": ["#222222","#d00000","#0000b0","#00803c","#d000d0"]}, "legend": null}
    }},
   {"data": {"values": [{"label": "Transferrin"}]},
    "mark": {"type": "text", "fontSize": 18, "baseline": "alphabetic", "align": "center", "color": "#222"},
    "encoding": {"x": {"datum": 662, "type": "quantitative"}, "y": {"datum": 0.00495, "type": "quantitative"}, "text": {"field": "label"}}}
  ],
  "resolve": {"scale": {"color": "independent"}}
 },
 {
  "width": 302, "height": 224,
  "title": {"text": "(b)", "dx": -65, "dy": 26.5},
  "layer": [
   {"data": {"name": "bRaw"},
    "transform": [{"fold": ["a","b","c","d","e"], "as": ["s","v"]}],
    "mark": {"type": "line", "strokeWidth": 1, "clip": true},
    "encoding": {
     "x": {"field": "t", "type": "quantitative", "scale": {"domain": [0, 1105], "nice": false}, "axis": {"title": "Time (s)", "values": [0,100,200,300,400,500,600,700,800,900,1000], "format": "d", "labelExpr": "datum.value % 200 == 0 ? datum.label : ''", "titlePadding": 4}},
     "y": {"field": "v", "type": "quantitative", "scale": {"domain": [-0.000592, 0.00552], "nice": false, "zero": false}, "axis": {"title": "Relative Index Variation", "values": [0, 0.002, 0.004], "format": ".3f", "titlePadding": 12}},
     "color": {"field": "s", "type": "nominal", "scale": {"domain": ["a","b","c","d","e"], "range": ["#000000","#ff0000","#0000ff","#109a8c","#ff00ff"]},
       "legend": {"title": null, "labelExpr": "datum.label == 'a' ? '0.01mg/mL' : datum.label == 'b' ? '0.025mg/mL' : datum.label == 'c' ? '0.05mg/mL' : datum.label == 'd' ? '0.1mg/mL' : '0.15mg/mL'", "legendX": 25, "legendY": 21, "symbolType": "M-4,0H4", "symbolSize": 29, "symbolOffset": 7, "labelOffset": 11, "rowPadding": 3.7}}
    }},
   {"data": {"name": "bFit"},
    "transform": [{"fold": ["a","b","c","d","e"], "as": ["s","v"]}],
    "mark": {"type": "line", "strokeWidth": 1.4, "interpolate": "monotone"},
    "encoding": {
     "x": {"field": "t", "type": "quantitative"},
     "y": {"field": "v", "type": "quantitative"},
     "color": {"field": "s", "type": "nominal", "scale": {"domain": ["a","b","c","d","e"], "range": ["#222222","#d00000","#0000b0","#00803c","#d000d0"]}, "legend": null}
    }},
   {"data": {"values": [{"label": "IgG"}]},
    "mark": {"type": "text", "fontSize": 18, "baseline": "alphabetic", "align": "center", "color": "#222"},
    "encoding": {"x": {"datum": 590, "type": "quantitative"}, "y": {"datum": 0.00478, "type": "quantitative"}, "text": {"field": "label"}}}
  ],
  "resolve": {"scale": {"color": "independent"}}
 },
 {
  "width": 298, "height": 222,
  "title": {"text": "(c)", "dx": -62, "dy": 23},
  "layer": [
   {"data": {"name": "cFit"},
    "mark": {"type": "line", "strokeWidth": 1.3, "interpolate": "monotone"},
    "encoding": {
     "x": {"field": "conc", "type": "quantitative", "scale": {"domain": [0, 0.17], "nice": false}, "axis": {"title": "Concentrations(mg/mL)", "titleFontSize": 12.5, "values": [0, 0.025, 0.05, 0.075, 0.1, 0.125, 0.15], "labelExpr": "round(datum.value*40) % 2 == 0 ? format(datum.value, '.2f') : ''", "titlePadding": 9}},
     "y": {"field": "v", "type": "quantitative", "scale": {"domain": [-0.000148, 0.004769], "nice": false, "zero": false}, "axis": {"title": "Relative Index Variation", "values": [0, 0.001, 0.002, 0.003, 0.004], "labelExpr": "round(datum.value*1000) % 2 == 0 ? format(datum.value, '.3f') : ''", "titlePadding": 11}},
     "color": {"field": "s", "type": "nominal", "scale": {"domain": ["Fitting curve"], "range": ["#ff0000"]},
       "legend": {"title": null, "legendX": 9, "legendY": 34.4, "padding": 0, "strokeColor": "transparent", "fillColor": "transparent", "symbolType": "M-4,0H4", "symbolSize": 27.6, "symbolStrokeWidth": 1.3, "symbolOffset": 15.8, "labelOffset": 8.9}},
     "detail": {"field": "curve"}
    }},
   {"data": {"name": "cPts"},
    "mark": {"type": "point", "filled": true, "size": 44, "opacity": 1, "shape": "M-0.75,-0.75H0.75V0.75H-0.75Z"},
    "encoding": {
     "x": {"field": "conc", "type": "quantitative"},
     "y": {"field": "v", "type": "quantitative"},
     "color": {"field": "s", "type": "nominal", "scale": {"domain": ["Transferrin","IgG","Fitting curve"], "range": ["#000000","#ff0000","transparent"]},
       "legend": {"title": null, "labelExpr": "datum.label == 'Fitting curve' ? '' : datum.label", "legendX": 4, "legendY": 7, "padding": 5, "fillColor": "transparent", "symbolType": "M-0.75,-0.75H0.75V0.75H-0.75Z", "symbolSize": 27.6, "symbolStrokeWidth": 0, "symbolOffset": 15.5, "labelOffset": 8.9, "rowPadding": 1.2}}
    }}
  ],
  "resolve": {"scale": {"color": "independent"}}
 },
 {
  "width": 302, "height": 220,
  "title": {"text": "(d)", "dx": -65, "dy": 26},
  "layer": [
   {"data": {"name": "dRaw"},
    "transform": [{"fold": ["1st","2nd","3rd"], "as": ["s","v"]}],
    "mark": {"type": "line", "strokeWidth": 1.2, "clip": true},
    "encoding": {
     "x": {"field": "t", "type": "quantitative", "scale": {"domain": [0, 557], "nice": false}, "axis": {"title": "Time (s)", "values": [0,50,100,150,200,250,300,350,400,450,500,550], "format": "d", "labelExpr": "datum.value % 100 == 0 ? datum.label : ''", "titlePadding": 9.5}},
     "y": {"field": "v", "type": "quantitative", "scale": {"domain": [-0.00023, 0.002143], "nice": false, "zero": false}, "axis": {"title": "Relative Index Variation", "values": [0, 0.0005, 0.001, 0.0015, 0.002], "labelExpr": "round(datum.value*2000) % 2 == 0 ? format(datum.value, '.3f') : ''", "titlePadding": 15}},
     "color": {"field": "s", "type": "nominal", "scale": {"domain": ["1st","2nd","3rd"], "range": ["#000000","#f01010","#0000ff"]},
       "legend": {"title": null, "legendX": 33, "legendY": 18.3, "padding": 2, "symbolType": "M-4,0H4", "symbolSize": 44, "symbolOffset": 9, "labelOffset": 9.7, "rowPadding": 2}}
    }}
  ]
 }
]
}
